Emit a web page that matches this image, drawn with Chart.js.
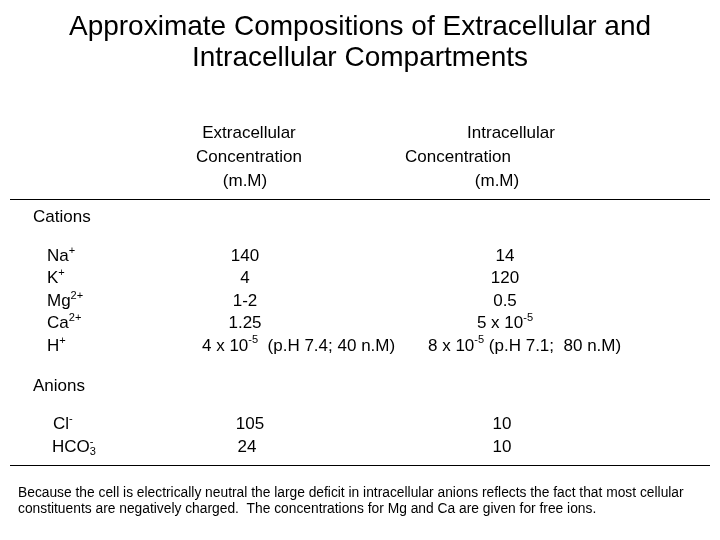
<!DOCTYPE html>
<html>
<head>
<meta charset="utf-8">
<script src="https://cdn.jsdelivr.net/npm/chart.js@4/dist/chart.umd.min.js"></script>
<style>
  html, body { margin: 0; padding: 0; background: #fff; }
  #wrap { width: 720px; height: 540px; }
</style>
</head>
<body>
<div id="wrap"><canvas id="c"></canvas></div>
<script>
// ── DATA ──────────────────────────────
const titleLines = ['Approximate Compositions of Extracellular and', 'Intracellular Compartments'];
const groups = ['Cations', 'Anions'];
// ion labels: [base, superscript, subscript]
const cations = [['Na', '+', ''], ['K', '+', ''], ['Mg', '2+', ''], ['Ca', '2+', ''], ['H', '+', '']];
const anions = [['Cl', '-', ''], ['HCO', '-', '3']];
const cationExtra = ['140', '4', '1-2', '1.25', '4 x 10^-5^  (p.H 7.4; 40 n.M)'];
const cationIntra = ['14', '120', '0.5', '5 x 10^-5^', '8 x 10^-5^ (p.H 7.1;  80 n.M)'];
const anionExtra = ['105', '24'];
const anionIntra = ['10', '10'];
const footnote = [
  'Because the cell is electrically neutral the large deficit in intracellular anions reflects the fact that most cellular',
  'constituents are negatively charged.  The concentrations for Mg and Ca are given for free ions.'
];

const FONT = '"Liberation Sans", Arial, sans-serif';
const BODY = 17;

// draws text with ^sup^ segments, aligned by given mode
function richText(ctx, s, x, y, size, align) {
  const parts = s.split('^');
  const widths = parts.map((p, i) => {
    ctx.font = `${i % 2 ? size * 0.65 : size}px ${FONT}`;
    return ctx.measureText(p).width;
  });
  const total = widths.reduce((a, b) => a + b, 0);
  let cx = align === 'center' ? x - total / 2 : x;
  parts.forEach((p, i) => {
    ctx.font = `${i % 2 ? size * 0.65 : size}px ${FONT}`;
    ctx.fillText(p, cx, i % 2 ? y - size * 0.35 : y);
    cx += widths[i];
  });
}

function ionText(ctx, ion, x, y, size) {
  const [base, sup, sub] = ion;
  ctx.font = `${size}px ${FONT}`;
  ctx.fillText(base, x, y);
  let w = ctx.measureText(base).width;
  ctx.font = `${size * 0.65}px ${FONT}`;
  if (sub) ctx.fillText(sub, x + w, y + size * 0.3);
  ctx.fillText(sup, x + w, y - size * 0.3);
}

const tablePlugin = {
  id: 'tablePlugin',
  afterDraw(chart) {
    const { ctx, scales: { x, y } } = chart;
    const X = v => x.getPixelForValue(v), Y = v => y.getPixelForValue(v);
    ctx.save();
    ctx.fillStyle = '#000';
    ctx.textBaseline = 'middle';

    ctx.textAlign = 'center';
    ctx.font = `28px ${FONT}`;
    ctx.fillText(titleLines[0], X(360), Y(27));
    ctx.fillText(titleLines[1], X(360), Y(58));

    ctx.font = `${BODY}px ${FONT}`;
    ctx.fillText('Extracellular', X(249), Y(133));
    ctx.fillText('Concentration', X(249), Y(157));
    ctx.fillText('(m.M)', X(245), Y(181));
    ctx.fillText('Intracellular', X(511), Y(133));
    ctx.fillText('Concentration', X(458), Y(157));
    ctx.fillText('(m.M)', X(497), Y(181));

    ctx.strokeStyle = '#000';
    ctx.lineWidth = 1;
    [199, 465].forEach(v => {
      ctx.beginPath(); ctx.moveTo(X(10), Y(v) + 0.5); ctx.lineTo(X(710), Y(v) + 0.5); ctx.stroke();
    });

    ctx.textAlign = 'left';
    ctx.font = `${BODY}px ${FONT}`;
    ctx.fillText(groups[0], X(33), Y(217));
    ctx.fillText(groups[1], X(33), Y(386));

    cations.forEach((ion, i) => {
      const yy = Y(256 + i * 22.5);
      ionText(ctx, ion, X(47), yy, BODY);
      const last = i === cations.length - 1;
      ctx.textAlign = 'left';
      richText(ctx, cationExtra[i], last ? X(202) : X(245), yy, BODY, last ? 'left' : 'center');
      richText(ctx, cationIntra[i], last ? X(428) : X(505), yy, BODY, last ? 'left' : 'center');
    });
    anions.forEach((ion, i) => {
      const yy = Y(424 + i * 23);
      ionText(ctx, ion, X(i ? 52 : 53), yy, BODY);
      richText(ctx, anionExtra[i], X(i ? 247 : 250), yy, BODY, 'center');
      richText(ctx, anionIntra[i], X(502), yy, BODY, 'center');
    });

    ctx.textAlign = 'left';
    ctx.font = `13.8px ${FONT}`;
    ctx.fillText(footnote[0], X(18), Y(493));
    ctx.fillText(footnote[1], X(18), Y(509));
    ctx.restore();
  }
};

new Chart(document.getElementById('c'), {
  type: 'scatter',
  data: { datasets: [{ data: [] }] },
  options: {
    responsive: true,
    maintainAspectRatio: false,
    animation: false,
    layout: { padding: 0 },
    plugins: { legend: { display: false }, tooltip: { enabled: false } },
    scales: {
      x: { type: 'linear', min: 0, max: 720, display: false },
      y: { type: 'linear', min: 0, max: 540, reverse: true, display: false },
    },
  },
  plugins: [tablePlugin],
});
</script>
</body>
</html>
